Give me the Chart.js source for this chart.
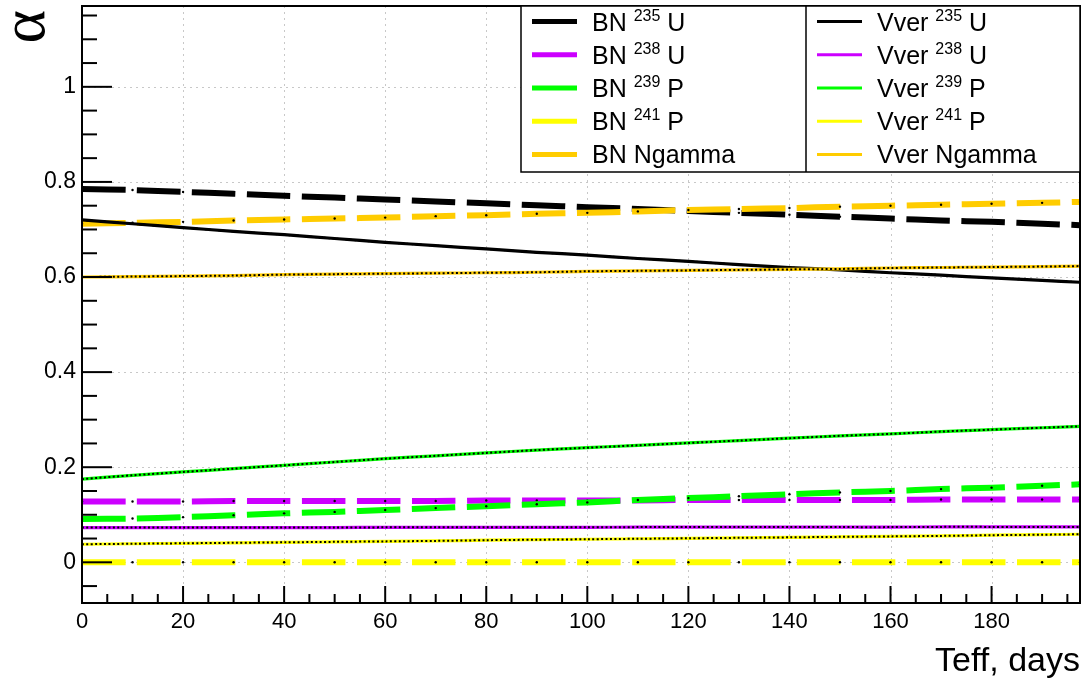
<!DOCTYPE html>
<html>
<head>
<meta charset="utf-8">
<script src="https://cdn.jsdelivr.net/npm/chart.js@4.4.1/dist/chart.umd.min.js"></script>
<style>
html,body{margin:0;padding:0;background:#fff;}
#wrap{width:1085px;height:680px;}
</style>
</head>
<body>
<div id="wrap"><canvas id="c" width="1085" height="680"></canvas></div>
<script>
// ---- data ----
const days = [0,10,20,30,40,50,60,70,80,90,100,110,120,130,140,150,160,170,180,190,197.5];
const bnU235 = [0.785,0.783,0.779,0.775,0.771,0.767,0.763,0.759,0.755,0.751,0.747,0.743,0.739,0.735,0.731,0.727,0.723,0.719,0.716,0.712,0.709];
const bnU238 = [0.128,0.128,0.128,0.129,0.129,0.129,0.129,0.129,0.130,0.130,0.130,0.130,0.131,0.131,0.131,0.131,0.131,0.132,0.132,0.132,0.132];
const bnP239 = [0.091,0.092,0.095,0.099,0.103,0.106,0.110,0.114,0.118,0.122,0.126,0.131,0.135,0.139,0.143,0.147,0.150,0.154,0.157,0.161,0.164];
const bnP241 = [0,0,0,0,0,0,0,0,0,0,0,0,0,0,0,0,0,0,0,0,0];
const bnNgamma = [0.712,0.714,0.716,0.719,0.721,0.723,0.725,0.728,0.730,0.733,0.735,0.738,0.741,0.743,0.745,0.748,0.750,0.752,0.754,0.756,0.758];
const vverU235 = [0.720,0.712,0.704,0.696,0.689,0.681,0.673,0.666,0.659,0.652,0.646,0.639,0.633,0.626,0.620,0.615,0.609,0.604,0.598,0.593,0.589];
const vverU238 = [0.073,0.073,0.073,0.073,0.073,0.073,0.0735,0.0735,0.0735,0.0735,0.0735,0.074,0.074,0.074,0.074,0.074,0.074,0.0745,0.0745,0.0745,0.0745];
const vverP239 = [0.175,0.183,0.190,0.197,0.204,0.211,0.218,0.224,0.230,0.236,0.241,0.246,0.251,0.256,0.261,0.266,0.270,0.275,0.279,0.283,0.286];
const vverP241 = [0.038,0.039,0.040,0.041,0.042,0.043,0.044,0.045,0.0465,0.0475,0.0485,0.0495,0.0505,0.0515,0.0525,0.0535,0.0545,0.0555,0.057,0.058,0.059];
const vverNgamma = [0.600,0.601,0.602,0.603,0.605,0.606,0.607,0.608,0.609,0.610,0.612,0.613,0.614,0.615,0.616,0.617,0.619,0.620,0.621,0.622,0.623];

const xTicks = [0,20,40,60,80,100,120,140,160,180];
const yTicks = [0,0.2,0.4,0.6,0.8,1];
const yTickLabels = ['0','0.2','0.4','0.6','0.8','1'];
const xTitle = 'Teff, days';
const yTitle = 'α';

const BLACK='#000000', PURPLE='#cc00ff', GREEN='#00ff00', YELLOW='#ffff00', ORANGE='#ffcc00';

const bnSeries = [
  {name:'BN', sup:'235', nuc:'U', data:bnU235, color:BLACK},
  {name:'BN', sup:'238', nuc:'U', data:bnU238, color:PURPLE},
  {name:'BN', sup:'239', nuc:'P', data:bnP239, color:GREEN},
  {name:'BN', sup:'241', nuc:'P', data:bnP241, color:YELLOW},
  {name:'BN Ngamma', sup:'', nuc:'', data:bnNgamma, color:ORANGE}
];
const vverSeries = [
  {name:'Vver', sup:'235', nuc:'U', data:vverU235, color:BLACK},
  {name:'Vver', sup:'238', nuc:'U', data:vverU238, color:PURPLE},
  {name:'Vver', sup:'239', nuc:'P', data:vverP239, color:GREEN},
  {name:'Vver', sup:'241', nuc:'P', data:vverP241, color:YELLOW},
  {name:'Vver Ngamma', sup:'', nuc:'', data:vverNgamma, color:ORANGE}
];

function pts(arr){ return days.map((d,i)=>({x:d,y:arr[i]})); }

const datasets = [];
bnSeries.forEach(s=>{
  datasets.push({label:s.name+' '+s.sup+' '+s.nuc, data:pts(s.data), borderColor:s.color, borderWidth:6,
    borderDash:[43.5,11.5], borderCapStyle:'butt', tension:0.3, fill:false,
    pointRadius:1.2, pointBackgroundColor:'#000', pointBorderWidth:0, pointHoverRadius:0});
});
vverSeries.forEach(s=>{
  datasets.push({label:s.name+' '+s.sup+' '+s.nuc, data:pts(s.data), borderColor:s.color, borderWidth:3.2,
    tension:0.3, fill:false, pointRadius:0, pointHoverRadius:0});
  datasets.push({label:'_dots', data:pts(s.data), borderColor:'#000', borderWidth:2,
    borderDash:[2,2.4], borderCapStyle:'butt', tension:0.3, fill:false, pointRadius:0, pointHoverRadius:0});
});
datasets.forEach((d,i)=>{ d.order = datasets.length - i; });

const FONT = "'Liberation Sans', Arial, Helvetica, sans-serif";

const rootPlugin = {
  id:'rootStyle',
  beforeDatasetsDraw(chart){
    const {ctx, chartArea:a, scales:{x,y}} = chart;
    ctx.save();
    ctx.strokeStyle='#c8c8c8'; ctx.lineWidth=1; ctx.setLineDash([2,4]);
    xTicks.forEach(v=>{ if(v===0) return; const px=Math.round(x.getPixelForValue(v))+0.5;
      ctx.beginPath(); ctx.moveTo(px,a.top); ctx.lineTo(px,a.bottom); ctx.stroke(); });
    yTicks.forEach(v=>{ const py=Math.round(y.getPixelForValue(v))+0.5;
      ctx.beginPath(); ctx.moveTo(a.left,py); ctx.lineTo(a.right,py); ctx.stroke(); });
    ctx.restore();
  },
  afterDatasetsDraw(chart){
    const {ctx, chartArea:a, scales:{x,y}} = chart;
    ctx.save();
    ctx.setLineDash([]);
    ctx.strokeStyle='#000';
    // frame
    ctx.lineWidth=2;
    ctx.strokeRect(a.left, a.top, a.right-a.left, a.bottom-a.top);
    // ticks
    ctx.lineWidth=2;
    for(let v=0; v<=x.max+0.001; v+=5){
      const px=x.getPixelForValue(v); const major=(v%20===0);
      ctx.beginPath(); ctx.moveTo(px,a.bottom); ctx.lineTo(px,a.bottom-(major?17:9)); ctx.stroke();
    }
    for(let k=-1; k<=23; k++){
      const v=k*0.05; if(v<y.min||v>y.max) continue;
      const py=y.getPixelForValue(v); const major=(k%4===0);
      ctx.beginPath(); ctx.moveTo(a.left,py); ctx.lineTo(a.left+(major?30:15),py); ctx.stroke();
    }
    // legend
    const L={x:521,y:a.top,w:a.right-521,h:166,div:806};
    ctx.fillStyle='#fff'; ctx.fillRect(L.x,L.y,L.w,L.h);
    ctx.lineWidth=1.5; ctx.strokeRect(L.x,L.y,L.w,L.h);
    ctx.beginPath(); ctx.moveTo(L.div,L.y); ctx.lineTo(L.div,L.y+L.h); ctx.stroke();
    const rowH=L.h/5;
    function entry(s, x0, yc, lw){
      ctx.strokeStyle=s.color; ctx.lineWidth=lw; ctx.setLineDash([]);
      ctx.beginPath(); ctx.moveTo(x0, yc); ctx.lineTo(x0+45, yc); ctx.stroke();
      let tx=x0+60;
      ctx.fillStyle='#000'; ctx.textAlign='left'; ctx.textBaseline='alphabetic';
      ctx.font='25px '+FONT;
      const base=yc+9;
      const first = s.sup ? s.name+' ' : s.name;
      ctx.fillText(first, tx, base); tx+=ctx.measureText(first).width;
      if(s.sup){
        ctx.font='16px '+FONT;
        ctx.fillText(s.sup, tx, base-10); tx+=ctx.measureText(s.sup).width;
        ctx.font='25px '+FONT;
        ctx.fillText(' '+s.nuc, tx, base);
      }
    }
    bnSeries.forEach((s,i)=> entry(s, 532, L.y+rowH*(i+0.5)-1, 5));
    vverSeries.forEach((s,i)=> entry(s, 817, L.y+rowH*(i+0.5)-1, 3));
    // axis titles
    ctx.fillStyle='#000';
    ctx.font='34px '+FONT; ctx.textAlign='right'; ctx.textBaseline='alphabetic';
    ctx.fillText(xTitle, a.right, 671);
    ctx.translate(27, 10); ctx.rotate(-Math.PI/2);
    ctx.font="64px 'Liberation Serif', 'DejaVu Serif', serif"; ctx.textAlign='right'; ctx.textBaseline='middle';
    ctx.fillText(yTitle, 0, 0);
    ctx.restore();
  }
};

new Chart(document.getElementById('c'), {
  type:'line',
  data:{datasets},
  options:{
    responsive:false, animation:false,
    layout:{padding:{top:6,right:5,left:0,bottom:0}},
    plugins:{legend:{display:false}, tooltip:{enabled:false}},
    scales:{
      x:{type:'linear', min:0, max:197.5,
        afterBuildTicks(s){ s.ticks = xTicks.map(v=>({value:v})); },
        afterFit(s){ s.height = 77; s.paddingLeft=0; s.paddingRight=0; },
        grid:{display:false}, border:{display:false},
        ticks:{font:{family:FONT,size:22}, color:'#000', padding:-2, maxRotation:0, autoSkip:false}},
      y:{type:'linear', min:-0.0856, max:1.17,
        afterBuildTicks(s){ s.ticks = yTicks.map(v=>({value:v})); },
        afterFit(s){ s.width = 82; s.paddingTop=0; s.paddingBottom=0; },
        grid:{display:false}, border:{display:false},
        ticks:{font:{family:FONT,size:23}, color:'#000', padding:-2, autoSkip:false,
          callback:(v)=>{ const i=yTicks.findIndex(t=>Math.abs(t-v)<1e-9); return i>=0?yTickLabels[i]:''; }}}
    }
  },
  plugins:[rootPlugin]
});
</script>
</body>
</html>
